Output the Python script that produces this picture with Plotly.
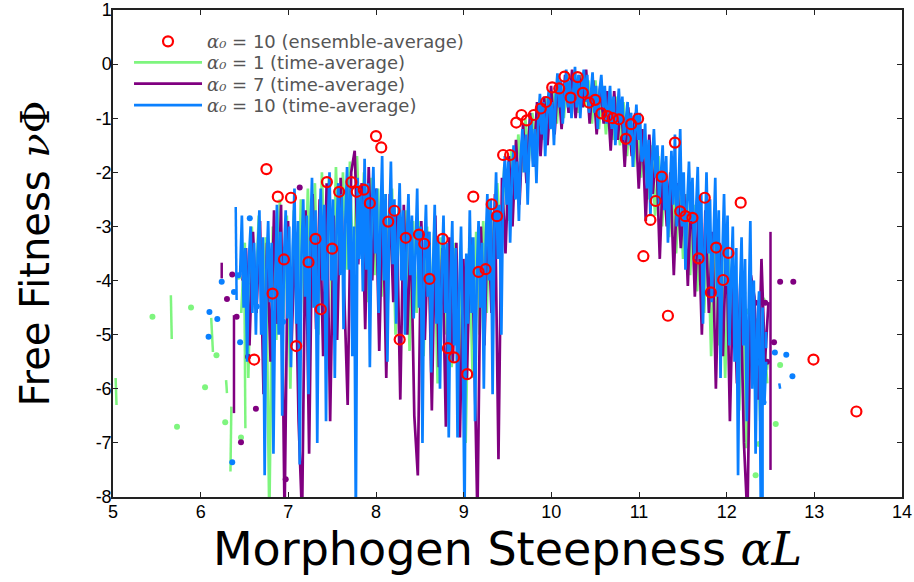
import numpy as np
import plotly.graph_objects as go

# ---------------- data ----------------
# ensemble-average (alpha0 = 10), red open circles
ENS_X = [6.61, 6.75, 6.82, 6.88, 6.95, 7.03, 7.09, 7.23, 7.31, 7.37, 7.44, 7.50, 7.58, 7.72, 7.78,
         7.86, 7.93, 8.00, 8.06, 8.14, 8.21, 8.27, 8.34, 8.49, 8.55, 8.61, 8.76, 8.82, 8.89, 9.04,
         9.11, 9.17, 9.25, 9.32, 9.38, 9.45, 9.53, 9.60, 9.66, 9.72, 9.80, 9.88, 9.94, 10.01, 10.09,
         10.15, 10.22, 10.30, 10.36, 10.43, 10.50, 10.57, 10.64, 10.70, 10.77, 10.85, 10.91, 10.99,
         11.05, 11.13, 11.19, 11.26, 11.33, 11.41, 11.47, 11.53, 11.61, 11.68, 11.75, 11.82, 11.88,
         11.96, 12.02, 12.16, 12.99, 13.48]
ENS_Y = [-5.46, -1.94, -4.24, -2.45, -3.61, -2.47, -5.21, -3.66, -3.23, -4.53, -2.18, -3.41, -2.36, -2.18, -2.36,
         -2.32, -2.57, -1.33, -1.54, -2.91, -2.71, -5.09, -3.21, -3.15, -3.32, -3.97, -3.23, -5.25, -5.42, -5.73,
         -2.45, -3.84, -3.79, -2.59, -2.81, -1.68, -1.68, -1.08, -0.94, -1.04, -0.94, -0.82, -0.70, -0.43, -0.45,
         -0.23, -0.62, -0.24, -0.53, -0.71, -0.66, -0.91, -0.96, -1.00, -1.02, -1.38, -1.11, -1.01,
         -3.55, -2.88, -2.53, -2.08, -4.65, -1.45, -2.72, -2.81, -2.84, -3.59, -2.47, -4.22, -3.39,
         -3.99, -3.49, -2.56, -5.46, -6.42]

# time-average series: densely sampled part (grid start, step, values)
GREEN_X0, GREEN_STEP = 6.463, 0.04
PURPLE_X0, PURPLE_STEP = 6.477, 0.04
BLUE_X0, BLUE_STEP = 6.45, 0.02

GREEN_Y = [-4.6, -3.3, -5.8, -3.0, -4.4, -2.8, -5.0, -3.2, -8.4, -3.0,
           -5.1, -2.5, -4.7, -2.8, -6.0, -2.7, -5.2, -2.5, -4.6, -2.3,
           -4.5, -2.2, -5.0, -2.0, -4.1, -2.1, -4.8, -1.9, -3.9, -2.0,
           -3.8, -1.8, -4.2, -1.7, -3.5, -2.0, -4.4, -2.1, -3.9, -2.3,
           -4.3, -2.4, -3.8, -2.3, -5.0, -2.6, -4.1, -2.7, -5.3, -2.9,
           -4.6, -2.9, -5.4, -3.0, -4.8, -3.1, -5.9, -3.2, -5.0, -3.4,
           -5.6, -3.3, -6.2, -3.6, -7.0, -3.4, -5.8, -3.1, -5.0, -2.9,
           -4.6, -2.5, -3.9, -2.2, -3.3, -1.9, -2.9, -1.6, -2.5, -1.3,
           -2.0, -1.0, -1.8, -0.9, -1.6, -0.7, -1.4, -0.6, -1.2, -0.5,
           -1.1, -0.3, -1.0, -0.2, -0.9, -0.15, -0.9, -0.2, -0.8, -0.3,
           -1.1, -0.3, -1.2, -0.4, -1.3, -0.5, -1.4, -0.6, -1.5, -0.7,
           -1.7, -0.9, -1.9, -1.0, -2.1, -1.2, -2.5, -1.5, -2.8, -1.7,
           -3.0, -2.0, -3.2, -2.1, -3.5, -2.2, -3.6, -2.4, -3.9, -2.6,
           -4.2, -2.8, -4.6, -3.0, -5.4, -3.2, -5.2, -3.4, -5.8, -3.6,
           -5.1, -3.9, -6.4, -4.2, -7.1, -4.5, -5.8, -4.7, -6.6, -5.0,
           -5.9]

PURPLE_Y = [-4.0, -3.4, -5.2, -3.1, -4.6, -2.9, -6.1, -3.3, -5.5, -2.7,
            -4.8, -2.6, -8.4, -2.9, -5.2, -3.1, -6.6, -8.4, -2.7, -7.2,
            -2.4, -4.9, -2.5, -5.4, -2.2, -6.6, -2.8, -5.1, -2.1, -4.0,
            -6.3, -2.0, -1.6, -3.7, -2.2, -4.9, -1.9, -4.0, -2.3, -5.3,
            -2.5, -5.8, -2.4, -4.4, -2.8, -6.2, -2.6, -5.0, -3.0, -6.5,
            -7.6, -2.9, -5.1, -3.1, -6.4, -2.8, -5.6, -3.4, -6.7, -3.2,
            -5.5, -3.3, -6.9, -3.6, -5.8, -3.2, -4.9, -8.4, -3.0, -5.2,
            -2.7, -4.6, -2.4, -7.3, -2.1, -3.5, -1.7, -3.0, -1.4, -2.6,
            -1.1, -2.2, -0.9, -1.9, -0.7, -1.7, -0.6, -1.5, -0.4, -1.3,
            -0.3, -1.2, -0.2, -0.9, -0.1, -1.0, -0.2, -0.8, -0.1, -1.1,
            -0.3, -1.3, -0.4, -1.1, -0.5, -1.6, -0.5, -1.4, -0.7, -1.9,
            -0.8, -1.7, -0.9, -2.3, -1.2, -2.9, -1.3, -2.4, -1.6, -3.6,
            -1.8, -3.0, -2.0, -3.9, -2.2, -3.4, -2.4, -4.1, -2.3, -4.3,
            -2.8, -5.0, -2.7, -4.6, -3.1, -6.0, -3.3, -5.4, -3.2, -6.6,
            -3.8, -5.9, -4.0, -7.0, -8.4, -3.9, -4.3, -6.2, -3.6, -5.5,
            -4.4]

BLUE_Y = [-3.9, -2.8, -4.5, -3.4, -5.5, -3.6, -3.0, -4.6, -3.3, -5.0,
          -3.5, -2.7, -5.0, -3.2, -7.6, -3.8, -2.9, -4.4, -3.3, -7.2,
          -4.2, -2.6, -5.0, -3.1, -6.5, -3.6, -2.7, -4.7, -3.0, -5.6,
          -3.4, -2.3, -4.8, -2.9, -7.4, -3.5, -2.5, -4.3, -2.8, -6.1,
          -3.2, -2.1, -4.5, -2.7, -7.0, -3.3, -2.3, -4.0, -2.6, -6.6,
          -3.0, -2.0, -4.0, -2.5, -5.8, -3.1, -2.2, -3.9, -2.4, -4.9,
          -2.9, -1.9, -3.8, -2.3, -5.4, -3.0, -8.4, -2.1, -3.6, -2.4,
          -4.2, -1.75, -3.8, -2.2, -5.6, -2.8, -1.9, -3.5, -2.3, -4.6,
          -3.0, -1.7, -4.0, -2.4, -5.5, -3.1, -1.8, -3.7, -2.5, -4.8,
          -3.2, -2.2, -4.0, -2.7, -5.0, -3.3, -2.4, -3.9, -2.8, -4.7,
          -3.5, -2.3, -4.5, -3.0, -7.0, -3.6, -2.6, -4.3, -3.1, -5.7,
          -3.8, -2.6, -4.8, -3.2, -6.0, -3.9, -2.8, -4.6, -3.3, -6.9,
          -4.0, -2.9, -5.2, -3.4, -6.9, -4.2, -3.0, -5.0, -8.4, -3.5,
          -4.8, -2.7, -4.6, -3.2, -6.6, -3.9, -2.9, -4.5, -3.3, -6.0,
          -3.4, -2.4, -4.0, -2.5, -6.1, -3.1, -2.0, -3.6, -2.6, -5.0,
          -2.3, -1.7, -2.6, -1.8, -3.3, -2.1, -1.5, -2.5, -1.8, -2.9,
          -1.7, -1.2, -2.0, -1.3, -2.6, -1.5, -1.0, -1.9, -1.2, -2.2,
          -1.1, -0.55, -1.3, -0.7, -1.7, -0.9, -0.5, -1.2, -0.7, -1.5,
          -0.6, -0.17, -0.8, -0.3, -1.1, -0.5, -0.1, -0.8, -0.3, -1.0,
          -0.5, -0.05, -0.8, -0.2, -1.0, -0.4, -0.1, -0.7, -0.2, -0.9,
          -0.6, -0.15, -0.9, -0.4, -1.2, -0.5, -0.2, -0.8, -0.4, -1.1,
          -0.8, -0.4, -1.2, -0.6, -1.5, -0.9, -0.45, -1.1, -0.6, -1.4,
          -1.1, -0.7, -1.5, -0.9, -1.9, -1.2, -0.75, -1.4, -0.9, -1.8,
          -1.7, -1.1, -2.3, -1.4, -2.8, -1.8, -1.2, -2.1, -1.5, -2.6,
          -2.1, -1.5, -2.7, -1.7, -3.3, -2.3, -1.6, -2.6, -1.3, -3.0,
          -2.4, -1.2, -3.0, -2.0, -3.8, -2.6, -1.8, -2.9, -2.1, -3.6,
          -2.9, -1.9, -3.6, -2.4, -4.8, -3.1, -2.0, -3.5, -2.5, -4.4,
          -3.3, -2.1, -4.3, -2.7, -5.8, -3.6, -2.4, -4.1, -2.8, -5.2,
          -4.0, -3.0, -5.5, -3.4, -7.6, -4.3, -3.2, -5.2, -3.6, -6.6,
          -4.6, -2.9, -6.0, -4.0, -7.2, -4.8, -4.2, -8.4, -4.5, -6.3,
          -5.5]

# sparse wings: isolated points and short segments (None = gap)
GREEN_DOT_X = [5.45, 5.73, 5.89, 6.05, 6.18, 6.28, 6.43, 6.46, 6.53, 12.19, 12.24, 12.33, 12.37, 12.41, 12.56, 12.61]
GREEN_DOT_Y = [-4.67, -6.70, -4.50, -5.97, -5.38, -6.62, -3.93, -6.90, -4.23, -4.23, -4.57, -7.60, -7.02, -4.36, -6.65, -5.56]
GREEN_SEG_X = [5.03, 5.04, None, 5.66, 5.67, None, 6.12, 6.14, None, 6.29, 6.30, None, 6.35, 6.34, None, 6.50, 6.51, None, 12.47, 12.46]
GREEN_SEG_Y = [-5.8, -6.3, None, -4.27, -5.08, None, -4.69, -5.32, None, -5.84, -6.08, None, -6.33, -7.53, None, -4.39, -6.73, None, -5.5, -5.65]

PURPLE_DOT_X = [6.30, 6.36, 6.41, 6.46, 6.52, 6.54, 6.63, 6.97, 7.13, 12.33, 12.44, 12.46, 12.54, 12.61, 12.76]
PURPLE_DOT_Y = [-4.34, -3.89, -4.67, -6.99, -4.06, -5.41, -6.37, -7.67, -2.28, -4.41, -4.41, -5.50, -5.14, -4.02, -4.02]
PURPLE_SEG_X = [6.24, 6.24, None, 6.38, 6.38, None, 12.50, 12.50]
PURPLE_SEG_Y = [-3.67, -3.96, None, -4.64, -6.45, None, -3.1, -7.5]

BLUE_DOT_X = [6.09, 6.10, 6.19, 6.24, 6.36, 6.38, 6.43, 6.45, 6.56, 6.64, 6.94, 12.35, 12.42, 12.55, 12.68, 12.75]
BLUE_DOT_Y = [-5.04, -4.58, -4.71, -4.02, -7.36, -4.21, -3.90, -5.14, -2.85, -4.48, -4.76, -5.52, -6.25, -5.33, -5.37, -5.77]
BLUE_SEG_X = [6.40, 6.41, None, 12.45, 12.45, None, 12.60, 12.61, None, 12.41, 12.41]
BLUE_SEG_Y = [-2.64, -4.36, None, -4.95, -5.25, None, -5.9, -6.0, None, -5.7, -8.4]

X_TICKS = list(range(5, 15))
Y_TICKS = list(range(-8, 2))

GREEN = "#7ef57e"
PURPLE = "#800080"
BLUE = "#0a80ff"
RED = "#ff0000"

ALPHA = "<span style='font-family:DejaVu Serif'><i>α₀</i></span>"
NAMES = [ALPHA + " = 10 (ensemble-average)",
         ALPHA + " = 1 (time-average)",
         ALPHA + " = 7 (time-average)",
         ALPHA + " = 10 (time-average)"]

# ---------------- figure ----------------
fig = go.Figure()


def add_series(x0, step, ys, dx, dy, sx, sy, color, name, legend, width):
    xs = x0 + step * np.arange(len(ys))
    fig.add_trace(go.Scatter(x=xs, y=ys, mode="lines", line=dict(color=color, width=width),
                             name=name, legendgroup=name, legend=legend))
    fig.add_trace(go.Scatter(x=sx, y=sy, mode="lines", line=dict(color=color, width=2.5),
                             legendgroup=name, showlegend=False, connectgaps=False))
    fig.add_trace(go.Scatter(x=dx, y=dy, mode="markers", marker=dict(color=color, size=6),
                             legendgroup=name, showlegend=False))


add_series(GREEN_X0, GREEN_STEP, GREEN_Y, GREEN_DOT_X, GREEN_DOT_Y, GREEN_SEG_X, GREEN_SEG_Y, GREEN, NAMES[1], "legend2", 2.7)
add_series(PURPLE_X0, PURPLE_STEP, PURPLE_Y, PURPLE_DOT_X, PURPLE_DOT_Y, PURPLE_SEG_X, PURPLE_SEG_Y, PURPLE, NAMES[2], "legend3", 2.7)
add_series(BLUE_X0, BLUE_STEP, BLUE_Y, BLUE_DOT_X, BLUE_DOT_Y, BLUE_SEG_X, BLUE_SEG_Y, BLUE, NAMES[3], "legend4", 2.7)

fig.add_trace(go.Scatter(x=ENS_X, y=ENS_Y, mode="markers", name=NAMES[0], legend="legend",
                         marker=dict(symbol="circle-open", size=10, color=RED, line=dict(width=2.2, color=RED))))

axis_common = dict(showgrid=False, zeroline=False, showline=True, linecolor="#222", linewidth=1.5,
                   mirror="ticks", ticks="inside", ticklen=5, tickcolor="#222", tickwidth=1,
                   automargin=False,
                   tickfont=dict(family="Liberation Sans", size=18, color="black"))


def legend_box(ypos):
    return dict(x=0.0203, y=ypos, xanchor="left", yanchor="middle", bgcolor="rgba(0,0,0,0)",
                font=dict(family="DejaVu Sans", size=18, color="#555"), itemwidth=68)


fig.update_layout(
    width=914, height=582,
    margin=dict(l=113, r=12, t=10, b=85),
    plot_bgcolor="white", paper_bgcolor="white",
    showlegend=True,
    legend=legend_box(0.935),
    legend2=legend_box(0.892),
    legend3=legend_box(0.848),
    legend4=legend_box(0.804),
    xaxis=dict(range=[5, 14], tickvals=X_TICKS, ticktext=[str(v) for v in X_TICKS],
               ticklabelstandoff=-2,
               title=dict(text="Morphogen Steepness <span style='font-family:DejaVu Serif'><i>αL</i></span>",
                          font=dict(family="DejaVu Sans", size=46, color="black"), standoff=3),
               **axis_common),
    yaxis=dict(range=[-8, 1], tickvals=Y_TICKS, ticktext=[str(v) for v in Y_TICKS],
               ticklabelstandoff=-4,
               title=dict(text="Free Fitness <span style='font-family:DejaVu Serif'><i>ν</i>Φ</span>",
                          font=dict(family="DejaVu Sans", size=40, color="black"), standoff=34),
               **axis_common),
)

fig.write_html("out.html", config={"displayModeBar": False},
               post_script="document.body.style.margin='0px';")
